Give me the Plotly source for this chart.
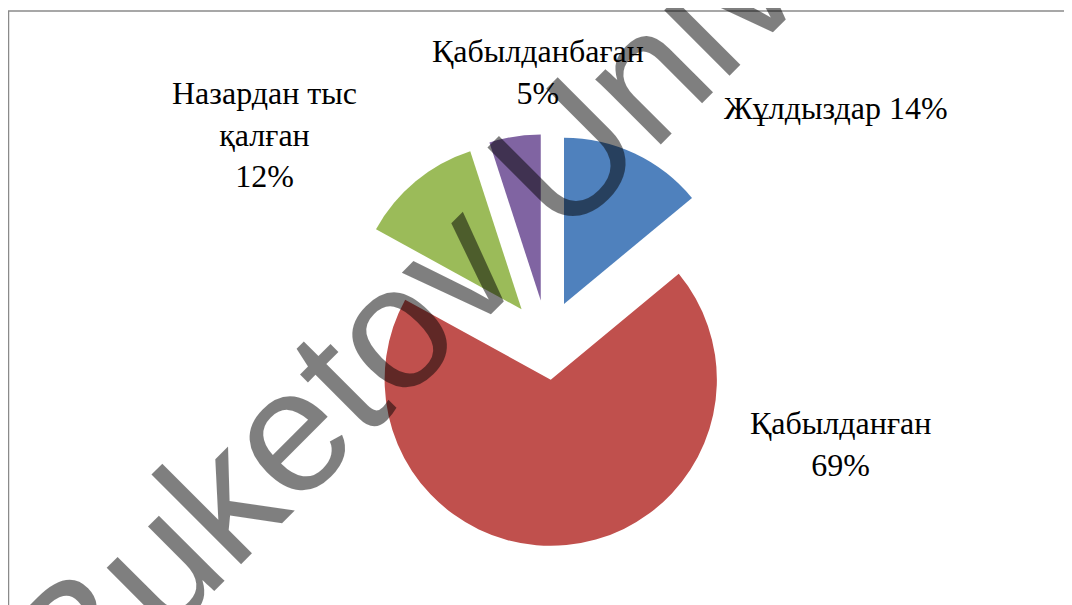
import plotly.graph_objects as go

# Data
categories = ["Жұлдыздар", "Қабылданған", "Назардан тыс қалған", "Қабылданбаған"]
values = [14, 69, 12, 5]
label_texts = ["Жұлдыздар 14%", "Қабылданған<br>69%", "Назардан тыс<br>қалған<br>12%", "Қабылданбаған<br>5%"]
colors = ["#4F81BD", "#C0504D", "#9BBB59", "#8064A2"]

W, H = 1072, 605
OX, OY = -8, -8  # page offset compensation

cx, cy, half = 547 + OX, 340 + OY, 206

fig = go.Figure()
fig.add_trace(go.Pie(
    labels=categories,
    values=values,
    sort=False,
    direction="clockwise",
    rotation=0,
    pull=[0.24] * 4,
    marker=dict(colors=colors, line=dict(width=0)),
    textinfo="none",
    hoverinfo="label+percent",
    showlegend=False,
    domain=dict(x=[(cx - half) / W, (cx + half) / W],
                y=[1 - (cy + half) / H, 1 - (cy - half) / H]),
))

# label positions (pixel centers)
label_pos = [(836, 108), (840, 444), (264, 134), (538, 72)]
for txt, (px, py) in zip(label_texts, label_pos):
    fig.add_annotation(
        x=(px + OX) / W, y=1 - (py + OY) / H, xref="paper", yref="paper",
        text=txt, showarrow=False, xanchor="center", yanchor="middle",
        align="center",
        font=dict(family="Liberation Serif, Times New Roman, serif", size=32, color="black"),
    )

# watermark
fig.add_annotation(
    x=(551 + OX) / W, y=1 - (168 + OY) / H, xref="paper", yref="paper",
    text="Buketov University", showarrow=False,
    xanchor="center", yanchor="middle", textangle=-45,
    font=dict(family="Liberation Sans, Arial, sans-serif", size=175, color="rgba(0,0,0,0.5)"),
)

# border
fig.add_shape(
    type="rect", xref="paper", yref="paper",
    x0=0.5 / W, y0=-0.05, x1=1.05, y1=1 - 3 / H,
    line=dict(color="#8a8a8a", width=1.5), fillcolor="rgba(0,0,0,0)", layer="below",
)

fig.update_layout(
    width=W, height=H,
    margin=dict(l=0, r=0, t=0, b=0),
    paper_bgcolor="white", plot_bgcolor="white",
)

fig.write_html("out.html")
